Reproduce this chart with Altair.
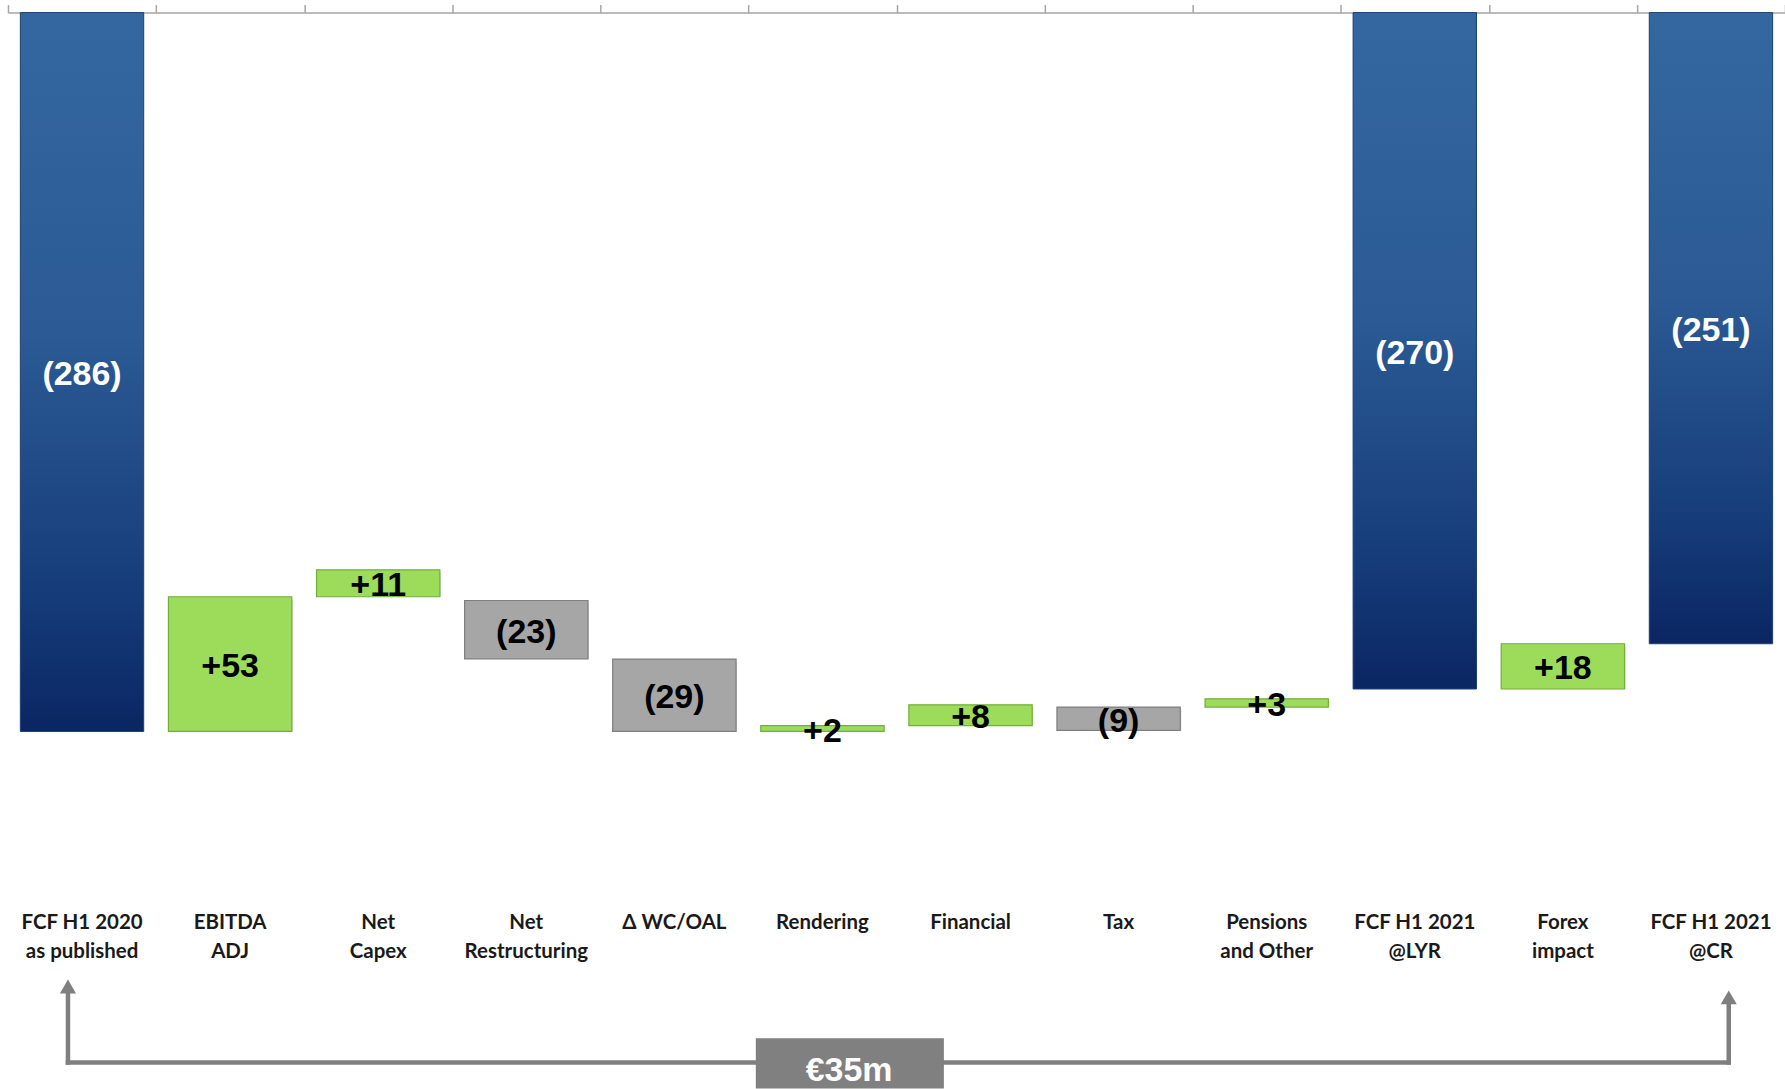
import altair as alt
import pandas as pd

# ---- data ----
categories = [
    "FCF H1 2020\nas published", "EBITDA\nADJ", "Net\nCapex", "Net\nRestructuring",
    "Δ WC/OAL", "Rendering", "Financial", "Tax", "Pensions\nand Other",
    "FCF H1 2021\n@LYR", "Forex\nimpact", "FCF H1 2021\n@CR",
]
bar_top = [0, -232.4, -221.7, -233.9, -257.2, -283.7, -275.4, -276.3, -273.0, 0, -251.1, 0]
bar_bottom = [-286, -286, -232.4, -257.1, -286, -286, -283.7, -285.6, -276.3, -269.1, -269.1, -251.1]
bar_labels = ["(286)", "+53", "+11", "(23)", "(29)", "+2", "+8", "(9)", "+3", "(270)", "+18", "(251)"]
bar_kind = ["total", "up", "up", "down", "down", "up", "up", "down", "up", "total", "up", "total"]

# annotation (bottom bracket arrow) positions, in axis units
arrow_x = [-0.095, 11.12]
arrow_head_y = [-387.5, -391.8]
arrow_base_y = -417.7
box_x = [4.55, 5.82]
box_y = [-408.1, -428]
box_text = "€35m"
box_text_pos = [5.18, -421.0]
cat_label_y = -358.2

idx = list(range(len(categories)))
df = pd.DataFrame({
    "idx": idx, "cat": categories, "top": bar_top, "bottom": bar_bottom,
    "label": bar_labels, "kind": bar_kind,
})
df["mid"] = (df["top"] + df["bottom"]) / 2
df["label_y"] = cat_label_y

xscale = alt.Scale(domain=[-0.5, 11.5], nice=False, zero=False, padding=0)
yscale = alt.Scale(domain=[-428, 0], nice=False, zero=False, padding=0)
boundaries = [i - 0.5 for i in range(13)]

base = alt.Chart(df)

top_axis = alt.Axis(orient="top", values=boundaries, labels=False, title=None, grid=False,
                    domainColor="#a6a6a6", domainWidth=1.5, tickColor="#a6a6a6",
                    tickWidth=1.5, tickSize=8)

blue_grad = alt.Gradient(
    gradient="linear",
    stops=[alt.GradientStop(color="#3467a0", offset=0),
           alt.GradientStop(color="#2b5a94", offset=0.45),
           alt.GradientStop(color="#163d7a", offset=0.8),
           alt.GradientStop(color="#0a2663", offset=1)],
    x1=0, x2=0, y1=0, y2=1,
)

blue = base.transform_filter("datum.kind == 'total'").mark_bar(
    width=123.5, color=blue_grad, stroke="#1c3f73", strokeWidth=1
).encode(
    x=alt.X("idx:Q", scale=xscale, axis=top_axis),
    y=alt.Y("top:Q", scale=yscale, axis=None),
    y2="bottom:Q",
)

shadow = base.transform_filter("datum.kind != 'total'").mark_bar(
    width=123.5, color="#7f7f7f", opacity=0.3, yOffset=3, xOffset=1
).encode(
    x=alt.X("idx:Q", scale=xscale, axis=top_axis),
    y=alt.Y("top:Q", scale=yscale, axis=None),
    y2="bottom:Q",
)

deltas = base.transform_filter("datum.kind != 'total'").mark_bar(
    width=123.5, strokeWidth=1.2
).encode(
    x=alt.X("idx:Q", scale=xscale, axis=top_axis),
    y=alt.Y("top:Q", scale=yscale, axis=None),
    y2="bottom:Q",
    fill=alt.Fill("kind:N", scale=alt.Scale(domain=["up", "down"], range=["#9ddc5b", "#a6a6a6"]), legend=None),
    stroke=alt.Stroke("kind:N", scale=alt.Scale(domain=["up", "down"], range=["#74ad3c", "#7f7f7f"]), legend=None),
)

value_labels = base.mark_text(
    font="Liberation Sans, Arial, sans-serif", fontWeight="bold", fontSize=34, baseline="middle",
    align="center", dy=3
).encode(
    x=alt.X("idx:Q", scale=xscale, axis=top_axis),
    y=alt.Y("mid:Q", scale=yscale, axis=None),
    text="label:N",
    color=alt.Color("kind:N", scale=alt.Scale(domain=["total", "up", "down"], range=["#ffffff", "#000000", "#000000"]), legend=None),
)

cat_labels = base.mark_text(
    font="Lato, Open Sans, sans-serif", fontWeight="bold", fontSize=20.5, baseline="top", align="center",
    lineBreak="\n", lineHeight=29.6, color="#1a1a1a"
).encode(
    x=alt.X("idx:Q", scale=xscale, axis=top_axis),
    y=alt.Y("label_y:Q", scale=yscale, axis=None),
    text="cat:N",
)

arr_df = pd.DataFrame({"x": arrow_x, "head": arrow_head_y, "base": [arrow_base_y] * 2})
arr_v = alt.Chart(arr_df).mark_rule(color="#7f7f7f", strokeWidth=4.5, strokeCap="square").encode(
    x=alt.X("x:Q", scale=xscale, axis=top_axis),
    y=alt.Y("head:Q", scale=yscale, axis=None),
    y2="base:Q",
)
arr_head = alt.Chart(arr_df).mark_point(shape="triangle-up", filled=True, size=260, color="#7f7f7f", opacity=1).encode(
    x=alt.X("x:Q", scale=xscale, axis=top_axis),
    y=alt.Y("head:Q", scale=yscale, axis=None),
)
hz_df = pd.DataFrame({"x": [arrow_x[0]], "x2": [arrow_x[1]], "y": [arrow_base_y]})
arr_h = alt.Chart(hz_df).mark_rule(color="#7f7f7f", strokeWidth=4.5, strokeCap="square").encode(
    x=alt.X("x:Q", scale=xscale, axis=top_axis),
    x2="x2:Q",
    y=alt.Y("y:Q", scale=yscale, axis=None),
)

box_df = pd.DataFrame({"x": [box_x[0]], "x2": [box_x[1]], "y": [box_y[0]], "y2": [box_y[1]],
                       "tx": [box_text_pos[0]], "ty": [box_text_pos[1]], "t": [box_text]})
box = alt.Chart(box_df).mark_rect(color="#808080").encode(
    x=alt.X("x:Q", scale=xscale, axis=top_axis), x2="x2:Q",
    y=alt.Y("y:Q", scale=yscale, axis=None), y2="y2:Q",
)
box_label = alt.Chart(box_df).mark_text(
    font="Liberation Sans, Arial, sans-serif", fontWeight="bold", fontSize=34, color="#ffffff",
    baseline="middle", align="center"
).encode(
    x=alt.X("tx:Q", scale=xscale, axis=top_axis),
    y=alt.Y("ty:Q", scale=yscale, axis=None),
    text="t:N",
)

chart = alt.layer(
    blue, shadow, deltas, value_labels, cat_labels, arr_v, arr_h, arr_head, box, box_label
).properties(
    width=1779, height=1077,
    autosize=alt.AutoSizeParams(type="none"),
    padding={"left": 8, "top": 12, "right": 0, "bottom": 0},
    background="#ffffff",
).configure_view(stroke=None)

chart.save("out.html", embed_options={"renderer": "svg", "actions": False})
